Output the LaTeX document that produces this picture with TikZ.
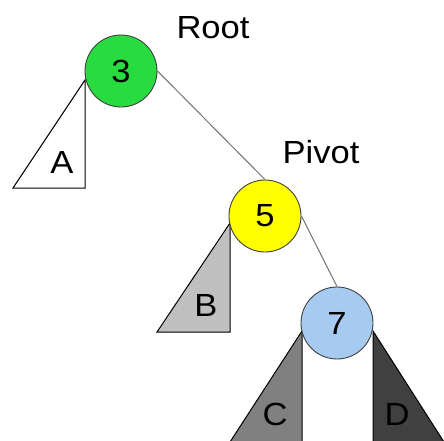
\documentclass[tikz,border=0pt]{standalone}
\usepackage{fontspec}
\setmainfont{Liberation Sans}[FakeStretch=1.08]
\begin{document}
\begin{tikzpicture}[x=1pt,y=-1pt,
  key/.style={circle,draw=black!75,line width=0.9pt,minimum size=72pt,inner sep=0pt,
    font=\fontsize{32}{38}\selectfont},
  edge/.style={draw=black!55,line width=1pt},
  subtree/.style={draw=black,line width=1pt,line join=miter},
  lbl/.style={anchor=base,inner sep=0pt,font=\fontsize{32}{38}\selectfont}]
\definecolor{rootgreen}{RGB}{40,220,64}
\definecolor{pivotyellow}{RGB}{255,255,0}
\definecolor{nodeblue}{RGB}{166,202,240}
\definecolor{treeB}{RGB}{192,192,192}
\definecolor{treeC}{RGB}{128,128,128}
\definecolor{treeD}{RGB}{64,64,64}
\useasboundingbox (0,0) rectangle (444,440);
\fill[white] (0,0) rectangle (444,440);

% subtrees
\path[subtree,fill=white] (85,80) -- (85,188) -- (13,188) -- cycle;
\path[subtree,fill=treeB] (230,223) -- (230,332) -- (157,332) -- cycle;
\path[subtree,fill=treeC] (302,331) -- (302,442) -- (230,442) -- cycle;
\path[subtree,fill=treeD] (373,331) -- (373,442) -- (444,442) -- cycle;

% keys
\node[key,fill=rootgreen] (n3) at (121,71) {3};
\node[key,fill=pivotyellow] (n5) at (265,216) {5};
\node[key,fill=nodeblue] (n7) at (337,323) {7};

% links
\draw[edge] (n3.east) -- (n5.north);
\draw[edge] (n5.east) -- (n7.north);

% subtree names
\node[lbl] (la) at (62,173) {A};
\node[lbl] (lb) at (206,316) {B};
\node[lbl] (lc) at (275,425) {C};
\node[lbl] (ld) at (397,425) {D};

% roles
\node[lbl] (root) at (213,38) {Root};
\node[lbl] (pivot) at (321,163) {Pivot};
\end{tikzpicture}
\end{document}
